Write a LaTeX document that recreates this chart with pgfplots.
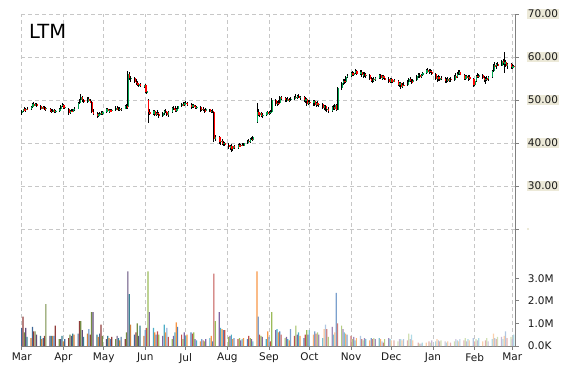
\documentclass[border=0pt]{standalone}
\usepackage{fontspec}
\setmainfont{DejaVu Sans}
\usepackage{pgfplots}
\pgfplotsset{compat=1.18}
\usepackage{pgfplotstable}
\definecolor{cB}{HTML}{4F81BD}
\definecolor{cR}{HTML}{C0504D}
\definecolor{cG}{HTML}{9BBB59}
\definecolor{cP}{HTML}{8064A2}
\definecolor{cA}{HTML}{4BACC6}
\definecolor{cO}{HTML}{F79646}
\colorlet{vc0}{cB!80!black}\colorlet{vc1}{cR!75!black}\colorlet{vc2}{cG!75!black}
\colorlet{vc3}{cP!75!black}\colorlet{vc4}{cA!75!black}\colorlet{vc5}{cO!85!black}
\colorlet{vc6}{cB}\colorlet{vc7}{cR}\colorlet{vc8}{cG}
\colorlet{vc9}{cP}\colorlet{vc10}{cA}\colorlet{vc11}{cO}
\colorlet{vc12}{cB!75!white}\colorlet{vc13}{cR!75!white}\colorlet{vc14}{cG!75!white}
\colorlet{vc15}{cP!75!white}\colorlet{vc16}{cA!75!white}\colorlet{vc17}{cO!75!white}
\colorlet{vc18}{cB!45!white}\colorlet{vc19}{cR!45!white}\colorlet{vc20}{cG!45!white}
\colorlet{vc21}{cP!45!white}\colorlet{vc22}{cA!45!white}\colorlet{vc23}{cO!45!white}
\definecolor{upc}{HTML}{00A651}
\definecolor{dnc}{HTML}{FF0000}
\definecolor{lbg}{HTML}{ECE9D8}
\pgfplotstableread{
d o h l c v
0 47.0 47.6 46.5 47.4 0.8
1 47.4 48.0 47.1 47.8 1.3
2 47.8 48.3 47.4 47.6 0.6
3 47.6 48.2 47.3 48.0 0.8
4 48.0 48.4 47.6 47.9 0.4
7 47.9 48.6 47.7 48.4 0.35
8 48.4 49.2 48.2 49.0 0.85
9 49.0 49.5 48.6 48.8 0.65
10 48.8 49.3 48.5 49.1 0.65
11 49.1 49.4 48.4 48.5 0.5
14 48.5 48.8 47.6 48.0 0.45
15 48.0 48.6 47.8 48.4 0.3
16 48.4 48.7 47.9 48.1 0.35
17 48.1 48.5 47.7 47.9 0.45
18 47.9 48.3 47.5 48.2 1.85
21 48.0 48.2 47.2 47.5 0.45
22 47.5 47.9 47.0 47.3 0.45
23 47.3 47.8 47.1 47.6 0.45
24 47.6 47.8 46.9 47.2 0.45
25 47.2 47.7 47.0 47.5 0.9
28 47.5 48.2 47.3 48.0 0.3
29 48.0 48.8 47.8 48.6 0.3
30 48.6 49.2 48.3 48.9 0.45
31 48.9 49.1 48.0 48.2 0.2
32 48.2 48.6 47.9 48.4 0.3
35 48.0 48.1 46.6 47.0 0.35
36 47.0 47.6 46.8 47.4 0.5
37 47.4 47.9 47.1 47.3 0.45
38 47.3 48.0 47.2 47.8 0.55
39 47.8 48.3 47.5 48.0 0.5
42 48.0 49.6 47.9 49.4 0.55
43 49.4 50.3 49.0 50.0 1.1
44 50.0 51.3 49.8 50.6 1.1
45 50.6 50.9 49.6 49.9 0.7
46 49.9 50.2 49.2 49.6 0.4
49 49.6 50.6 49.3 50.3 0.55
50 50.3 50.8 49.5 49.8 0.75
51 49.8 50.3 49.2 49.5 0.5
52 49.5 49.7 47.0 47.3 1.5
53 47.3 47.8 46.4 46.8 1.5
56 46.8 47.2 45.8 46.2 0.5
57 46.2 47.0 46.0 46.7 0.4
58 46.7 47.3 46.4 47.0 0.55
59 47.0 47.5 46.5 46.8 0.95
60 46.8 47.4 46.6 47.2 0.45
63 47.2 48.1 47.0 47.8 0.3
64 47.8 48.2 47.2 47.4 0.45
65 47.4 47.9 47.0 47.6 0.35
66 47.6 48.0 47.3 47.5 0.3
67 47.5 47.9 47.1 47.7 0.4
70 47.7 48.5 47.5 48.2 0.3
71 48.2 48.6 47.6 47.8 0.45
72 47.8 48.3 47.4 48.0 0.35
73 48.0 48.4 47.5 47.7 0.25
74 47.7 48.2 47.4 48.0 0.4
77 48.0 48.9 47.8 48.5 0.3
78 48.5 49.0 47.9 48.3 0.6
79 48.3 56.7 48.0 56.0 3.3
80 56.0 56.5 54.6 55.0 2.3
81 55.0 55.6 54.3 55.2 0.95
84 55.2 55.4 54.0 54.3 0.5
85 54.3 54.8 53.6 54.0 0.6
86 54.0 54.5 53.2 53.5 1.0
87 53.5 53.9 53.0 53.7 0.45
88 53.7 54.0 53.1 53.3 0.9
91 53.3 53.6 52.8 53.4 0.45
92 53.4 53.8 51.6 51.8 0.7
93 51.8 52.4 51.4 52.0 0.8
94 50.0 50.2 44.7 47.2 3.3
95 47.2 47.8 46.4 46.8 1.5
98 46.8 47.7 46.5 47.4 0.8
99 47.4 47.6 46.3 46.6 0.6
100 46.6 47.3 46.2 47.0 0.5
101 47.0 47.6 46.6 46.8 0.65
102 46.8 47.2 45.9 46.2 0.5
105 46.2 47.3 46.0 47.0 0.45
106 47.0 47.6 46.6 47.4 0.95
107 47.4 47.8 46.9 47.1 0.6
108 47.1 47.5 46.2 46.4 0.8
109 46.4 47.4 46.1 47.2 0.4
112 47.2 48.4 47.0 48.1 0.3
113 48.1 48.6 47.6 47.9 0.45
114 47.9 48.5 47.2 47.4 0.6
115 47.4 48.2 47.1 48.0 1.05
116 48.0 48.7 47.8 48.5 0.85
119 48.5 49.2 48.3 49.0 0.5
120 49.0 49.5 48.6 48.8 0.3
121 48.8 49.6 48.5 49.4 0.6
122 49.4 49.8 49.0 49.2 0.45
123 49.2 49.6 48.7 48.9 0.5
126 48.9 49.2 48.0 48.4 0.6
127 48.4 49.0 48.1 48.8 0.55
128 48.8 49.1 48.2 48.5 0.6
129 48.5 48.9 47.8 48.2 0.3
130 48.2 48.7 48.0 48.4 0.25
133 48.4 48.6 47.3 47.6 0.2
134 47.6 48.3 47.4 48.0 0.3
135 48.0 48.4 47.5 47.7 0.25
136 47.7 48.0 47.0 47.4 0.2
137 47.4 48.1 47.2 47.9 0.3
140 47.9 48.0 47.1 47.3 0.35
141 47.3 47.7 47.0 47.5 0.45
142 47.5 47.8 46.9 47.2 0.2
143 47.2 47.5 40.2 41.0 3.2
144 41.0 41.8 40.4 41.4 1.1
147 41.4 41.7 39.8 40.2 1.5
148 40.2 40.8 39.5 40.5 0.8
149 40.5 40.9 39.6 39.8 0.75
150 39.8 40.4 39.2 40.0 0.7
151 40.0 40.3 39.3 39.5 0.7
154 39.5 39.9 38.6 39.0 0.4
155 39.0 39.6 38.4 39.3 0.45
156 39.3 39.7 38.0 38.5 0.5
157 38.5 39.4 38.2 39.2 0.3
158 39.2 39.5 38.5 38.8 0.35
161 38.8 39.8 38.6 39.5 0.3
162 39.5 39.9 39.0 39.3 0.35
163 39.3 39.8 39.0 39.6 0.25
164 39.6 40.0 39.2 39.4 0.3
165 39.4 40.1 39.3 39.9 0.35
168 39.9 40.8 39.7 40.5 0.3
169 40.5 41.0 40.1 40.3 0.45
170 40.3 41.2 40.1 41.0 0.35
171 41.0 41.5 40.6 40.8 0.3
172 40.8 41.6 40.5 41.4 0.2
175 45.0 49.3 44.6 47.2 3.3
176 47.2 47.9 46.2 46.6 1.3
177 46.6 47.2 46.0 46.9 0.5
178 46.9 47.3 46.1 46.3 0.45
179 46.3 46.9 45.8 46.5 0.4
182 46.5 47.3 46.3 47.1 0.3
183 47.1 47.4 46.6 46.8 0.65
184 46.8 47.4 46.5 47.0 0.4
185 47.0 47.6 46.7 47.2 0.2
186 47.2 50.4 47.0 50.1 1.5
189 50.1 50.3 48.6 49.0 0.7
190 49.0 49.7 48.5 49.4 0.75
191 49.4 49.9 48.8 49.2 0.6
192 49.2 50.9 49.0 50.6 0.65
193 50.6 51.0 50.1 50.4 0.5
196 50.4 50.7 49.6 49.9 0.35
197 49.9 50.5 49.6 50.2 0.4
198 50.2 50.6 49.7 49.8 0.3
199 49.8 50.4 49.5 50.1 0.25
200 50.1 50.6 49.8 50.3 0.75
203 50.3 51.0 50.0 50.8 0.45
204 50.8 51.3 50.2 50.5 0.9
205 50.5 51.2 50.3 51.0 0.5
206 51.0 51.3 50.4 50.6 0.6
207 50.6 51.0 50.1 50.8 0.45
210 50.8 51.0 49.6 49.9 0.35
211 49.9 50.6 49.3 50.2 0.5
212 50.2 50.5 48.6 49.0 0.7
213 49.0 49.9 48.8 49.6 0.5
214 49.6 50.0 49.1 49.4 0.7
217 49.4 50.0 48.6 49.7 0.5
218 49.7 49.9 48.5 48.8 0.65
219 48.8 49.6 48.3 49.3 0.55
220 49.3 49.7 48.6 48.9 0.6
221 48.9 49.4 48.4 49.1 0.5
224 49.1 49.3 47.8 48.2 0.35
225 48.2 48.8 47.6 48.6 0.75
226 48.6 48.9 47.4 47.8 0.95
227 47.8 48.3 47.2 48.0 0.75
228 48.0 48.4 46.9 47.4 0.4
231 47.4 48.6 47.2 48.3 0.85
232 48.3 48.8 47.6 47.9 0.5
233 47.9 49.0 47.7 48.8 0.6
234 48.8 49.0 47.5 47.7 2.35
235 47.7 53.0 47.6 52.8 1.0
238 52.8 54.2 52.4 53.9 0.9
239 53.9 54.8 53.4 54.5 0.75
240 54.5 55.0 53.8 54.2 0.6
241 54.2 55.6 54.0 55.4 0.55
242 55.4 56.0 55.0 55.6 0.5
245 55.6 56.4 55.3 56.2 0.45
246 56.2 56.8 55.6 55.9 0.3
247 55.9 56.6 55.5 56.3 0.4
248 56.3 57.1 56.0 56.8 0.25
249 56.8 57.0 55.8 56.0 0.35
252 56.0 57.0 55.8 56.6 0.45
253 56.6 56.9 55.4 55.7 0.3
254 55.7 56.4 55.2 56.1 0.25
255 56.1 56.5 55.4 55.6 0.35
256 55.6 56.2 55.1 55.9 0.3
259 55.9 56.1 54.6 54.9 0.25
260 54.9 55.4 54.2 54.5 0.35
261 54.5 55.2 53.9 55.0 0.3
262 55.0 55.3 54.3 54.6 0.35
263 54.6 55.4 54.4 55.2 0.3
266 55.2 56.0 54.9 55.7 0.35
267 55.7 56.0 54.8 55.0 0.3
268 55.0 55.8 54.7 55.5 0.2
269 55.5 55.9 54.8 55.1 0.15
270 55.1 55.6 54.6 54.9 0.3
273 54.9 55.3 54.0 54.3 0.35
274 54.3 55.1 54.0 54.8 0.3
275 54.8 55.2 53.9 54.2 0.25
276 54.2 54.9 53.9 54.6 0.35
277 54.6 55.0 54.1 54.4 0.25
280 54.4 54.6 53.2 53.5 0.2
281 53.5 54.2 53.0 53.9 0.3
282 53.9 54.3 52.6 53.0 0.3
283 53.0 53.9 52.8 53.6 0.25
284 53.6 54.1 53.2 53.4 0.3
287 53.4 54.6 53.2 54.3 0.25
288 54.3 55.2 54.0 54.9 0.55
289 54.9 55.3 54.2 54.5 0.3
290 54.5 55.0 53.8 54.1 0.5
291 54.1 54.8 53.9 54.6 0.25
294 54.6 55.8 54.4 55.5 0.15
295 55.5 56.2 55.1 55.9 0.15
296 55.9 56.3 55.2 55.4 0.1
297 55.4 56.0 55.1 55.8 0.1
298 55.8 56.6 55.6 56.3 0.15
301 56.3 57.2 56.0 56.9 0.15
302 56.9 57.4 56.4 56.6 0.25
303 56.6 57.1 56.0 56.8 0.2
304 56.8 57.3 56.3 56.5 0.15
305 56.5 56.9 55.8 56.0 0.25
308 56.0 56.3 54.6 54.9 0.2
309 54.9 55.6 54.3 55.4 0.3
310 55.4 55.8 54.5 54.8 0.25
311 54.8 55.5 54.4 55.2 0.2
312 55.2 55.6 54.6 54.9 0.25
315 54.9 55.3 54.0 54.4 0.2
316 54.4 55.0 54.0 54.8 0.15
317 54.8 55.3 54.2 54.5 0.2
318 54.5 55.2 54.1 55.0 0.25
319 55.0 55.4 54.3 54.6 0.15
322 54.6 55.9 54.4 55.6 0.2
323 55.6 56.2 55.0 55.3 0.3
324 55.3 56.4 55.1 56.1 0.25
325 56.1 57.0 55.8 56.6 0.2
326 56.6 56.9 55.7 55.9 0.3
329 55.9 56.1 54.7 55.0 0.25
330 55.0 55.8 54.6 55.5 0.35
331 55.5 55.9 54.8 55.1 0.2
332 55.1 55.7 54.5 55.4 0.3
333 55.4 55.8 54.7 54.9 0.25
336 54.9 55.2 53.0 53.6 0.35
337 53.6 54.8 53.3 54.5 0.2
338 54.5 55.9 54.3 55.6 0.3
339 55.6 56.2 55.1 55.4 0.25
340 55.4 56.0 55.0 55.8 0.35
343 55.8 56.0 54.8 55.1 0.2
344 55.1 55.6 54.3 54.6 0.3
345 54.6 55.4 53.8 55.0 0.25
346 55.0 55.6 54.4 54.8 0.35
347 54.8 55.6 54.5 55.3 0.2
350 55.3 57.0 55.1 56.8 0.3
351 56.8 58.4 56.5 58.1 0.55
352 58.1 58.9 57.4 57.8 0.35
353 57.8 58.6 57.2 58.3 0.3
354 58.3 58.8 57.8 58.0 0.4
357 58.0 59.2 57.8 59.0 0.4
358 59.0 59.6 58.2 58.5 0.3
359 58.5 61.2 56.2 58.9 0.45
360 58.9 59.3 57.6 57.9 0.65
361 57.9 58.7 57.3 58.4 0.35
364 58.4 58.6 57.3 57.6 0.4
365 57.6 58.3 57.2 57.9 0.3
366 57.9 58.2 57.4 57.7 0.5
}\data
\begin{document}
\begin{tikzpicture}
\useasboundingbox (-21pt,-24pt) rectangle (549pt,346pt);
\begin{axis}[
  at={(0,0)}, anchor=south west, scale only axis,
  width=494pt, height=332pt,
  xmin=-0.5, xmax=367, ymin=-7.21, ymax=70,
  axis x line*=bottom, axis y line*=right,
  axis line style={color=black!50, line width=0.8pt},
  xtick={0,31,61,92,122,153,184,214,245,275,306,337,365},
  xticklabels={Mar,Apr,May,Jun,Jul,Aug,Sep,Oct,Nov,Dec,Jan,Feb,Mar},
  ytick={20,30,40,50,60,70},
  yticklabels={,30.00,40.00,50.00,60.00,70.00},
  tick align=outside, major tick length=3.5pt,
  tick style={color=black!50, line width=0.8pt},
  grid=major,
  major grid style={dash pattern=on 4pt off 3pt, color=black!22, line width=0.8pt},
  xticklabel style={font=\fontsize{10.5}{12}\selectfont, text=black!90},
  yticklabel style={font=\fontsize{10.5}{12}\selectfont, text=black!90, fill=lbg, inner sep=1.2pt, xshift=8pt},
]
\addplot[forget plot, draw=none, mark=none, error bars/.cd, y dir=both, y explicit, error mark=none,
  error bar style={draw=black, line width=0.8pt}]
  table[x=d, y expr={(\thisrow{h}+\thisrow{l})/2}, y error expr={(\thisrow{h}-\thisrow{l})/2}] {\data};
\addplot[forget plot, draw=none, mark=none,
  restrict expr to domain={\thisrow{c}-\thisrow{o}}{0:100},
  error bars/.cd, y dir=both, y explicit, error mark=none,
  error bar style={draw=upc, line width=1.2pt, xshift=0.65pt}]
  table[x=d, y expr={(\thisrow{o}+\thisrow{c})/2}, y error expr={abs(\thisrow{c}-\thisrow{o})/2}] {\data};
\addplot[forget plot, draw=none, mark=none,
  restrict expr to domain={\thisrow{o}-\thisrow{c}}{0.001:100},
  error bars/.cd, y dir=both, y explicit, error mark=none,
  error bar style={draw=dnc, line width=1.2pt, xshift=0.65pt}]
  table[x=d, y expr={(\thisrow{o}+\thisrow{c})/2}, y error expr={abs(\thisrow{c}-\thisrow{o})/2}] {\data};
\end{axis}
\begin{axis}[
  at={(0,0)}, anchor=south west, scale only axis,
  width=494pt, height=332pt,
  xmin=-0.5, xmax=367, ymin=0, ymax=14.69,
  axis x line=none, axis y line*=right,
  axis line style={color=black!50, line width=0.8pt},
  ytick={0,1,2,3},
  yticklabels={0.0K,1.0M,2.0M,3.0M},
  tick align=outside, major tick length=3.5pt,
  tick style={color=black!50, line width=0.8pt},
  yticklabel style={font=\fontsize{10.5}{12}\selectfont, text=black!90, inner sep=1.2pt, xshift=8pt},
]
\pgfplotsinvokeforeach{0,...,23}{
\addplot[ybar, bar width=1.2pt, bar shift=0pt, draw=none, fill=vc#1,
  restrict expr to domain={abs((\thisrow{d}<92 ? 0 : (\thisrow{d}<214 ? 6 : (\thisrow{d}<275 ? 12 : 18))) + \coordindex - 6*floor(\coordindex/6) - #1)}{0:0.2}]
  table[x=d, y=v] {\data};
}
\end{axis}
\node[anchor=base west, font=\fontsize{19.5}{22}\selectfont, inner sep=0pt] at (8pt,307pt) {LTM};
\end{tikzpicture}
\end{document}
